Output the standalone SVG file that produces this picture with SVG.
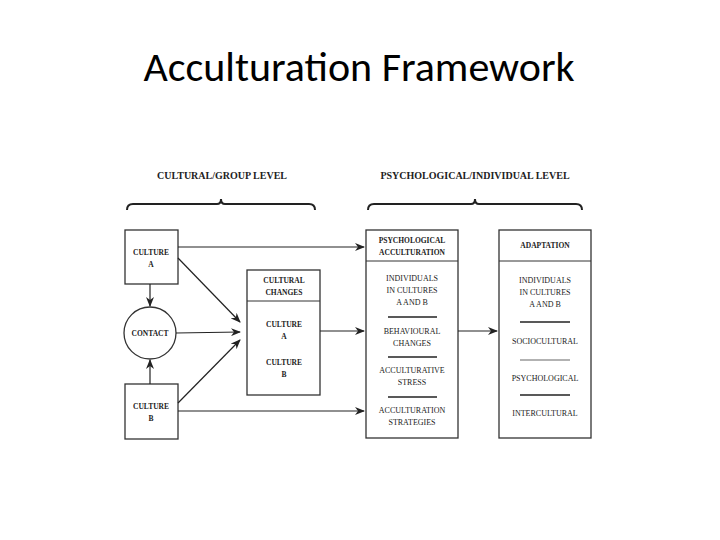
<svg xmlns="http://www.w3.org/2000/svg" width="720" height="540" viewBox="0 0 720 540">
<defs><marker id="ah" markerWidth="10" markerHeight="8" refX="9" refY="4" orient="auto" markerUnits="userSpaceOnUse"><path d="M0,0 L10,4 L0,8 L3,4 Z" fill="#222"/></marker></defs>
<style>
.b{fill:#fff;stroke:#333;stroke-width:1.3}
.t{font-family:"Liberation Serif",serif;font-size:8px;fill:#222;text-anchor:middle}
.k{font-weight:bold;font-size:7.5px}
.h{font-family:"Liberation Serif",serif;font-size:10px;font-weight:bold;fill:#222;text-anchor:middle}
.c{stroke:#222;stroke-width:1.2;fill:none;marker-end:url(#ah)}
.d{stroke:#222;stroke-width:1.5}
</style>
<rect width="720" height="540" fill="#fff"/>
<text x="359" y="81" font-family="Calibri,Carlito,'Liberation Sans',sans-serif" font-size="42" text-anchor="middle" fill="#000">Acculturation Framework</text>
<text class="h" x="222" y="179">CULTURAL/GROUP LEVEL</text>
<text class="h" x="475" y="179">PSYCHOLOGICAL/INDIVIDUAL LEVEL</text>
<path d="M127,210 Q127,204 133,204 L217,204 Q221,204 221,199 Q221,204 225,204 L309,204 Q315,204 315,210" fill="none" stroke="#222" stroke-width="2"/>
<path d="M368,210 Q368,204 374,204 L471,204 Q475,204 475,199 Q475,204 479,204 L576,204 Q582,204 582,210" fill="none" stroke="#222" stroke-width="2"/>
<g id="cultureA"><rect class="b" x="125" y="230" width="53" height="54"/><text class="t k" x="151" y="255">CULTURE</text><text class="t k" x="151" y="267">A</text></g>
<g id="contact"><circle class="b" cx="150" cy="333" r="26"/><text class="t k" x="150" y="336">CONTACT</text></g>
<g id="cultureB"><rect class="b" x="125" y="384" width="53" height="55"/><text class="t k" x="151" y="409">CULTURE</text><text class="t k" x="151" y="421">B</text></g>
<g id="changes"><rect class="b" x="247" y="270" width="73" height="125"/><line x1="247" y1="301" x2="320" y2="301" stroke="#333"/><text class="t k" x="284" y="283">CULTURAL</text><text class="t k" x="284" y="295">CHANGES</text><text class="t k" x="284" y="327">CULTURE</text><text class="t k" x="284" y="339">A</text><text class="t k" x="284" y="365">CULTURE</text><text class="t k" x="284" y="377">B</text></g>
<g id="psych"><rect class="b" x="366" y="230" width="92" height="208"/><line x1="366" y1="261" x2="458" y2="261" stroke="#333"/><text class="t k" x="412" y="243">PSYCHOLOGICAL</text><text class="t k" x="412" y="255">ACCULTURATION</text><text class="t" x="412" y="281">INDIVIDUALS</text><text class="t" x="412" y="293">IN CULTURES</text><text class="t" x="412" y="305">A AND B</text><line class="d" x1="388" y1="317" x2="437" y2="317"/><text class="t" x="412" y="334">BEHAVIOURAL</text><text class="t" x="412" y="346">CHANGES</text><line class="d" x1="388" y1="357" x2="437" y2="357"/><text class="t" x="412" y="373">ACCULTURATIVE</text><text class="t" x="412" y="385">STRESS</text><line class="d" x1="388" y1="397" x2="437" y2="397"/><text class="t" x="412" y="413">ACCULTURATION</text><text class="t" x="412" y="425">STRATEGIES</text></g>
<g id="adapt"><rect class="b" x="499" y="230" width="92" height="208"/><line x1="499" y1="261" x2="591" y2="261" stroke="#333"/><text class="t k" x="545" y="248">ADAPTATION</text><text class="t" x="545" y="283">INDIVIDUALS</text><text class="t" x="545" y="295">IN CULTURES</text><text class="t" x="545" y="307">A AND B</text><line class="d" x1="520" y1="322" x2="570" y2="322"/><text class="t" x="545" y="344">SOCIOCULTURAL</text><line x1="520" y1="360" x2="570" y2="360" stroke="#999" stroke-width="1.5"/><text class="t" x="545" y="381">PSYCHOLOGICAL</text><line class="d" x1="520" y1="395" x2="570" y2="395"/><text class="t" x="545" y="416">INTERCULTURAL</text></g>
<g id="connectors">
<line class="c" x1="178" y1="247" x2="364" y2="247"/>
<line class="c" x1="178" y1="258" x2="240" y2="322"/>
<line class="c" x1="176" y1="333" x2="240" y2="332"/>
<line class="c" x1="178" y1="403" x2="240" y2="340"/>
<line class="c" x1="178" y1="411" x2="364" y2="411"/>
<line class="c" x1="320" y1="331" x2="364" y2="331"/>
<line class="c" x1="458" y1="331" x2="497" y2="331"/>
<line class="c" x1="150" y1="284" x2="150" y2="306"/>
<line class="c" x1="150" y1="384" x2="150" y2="360"/>
</g>
</svg>
